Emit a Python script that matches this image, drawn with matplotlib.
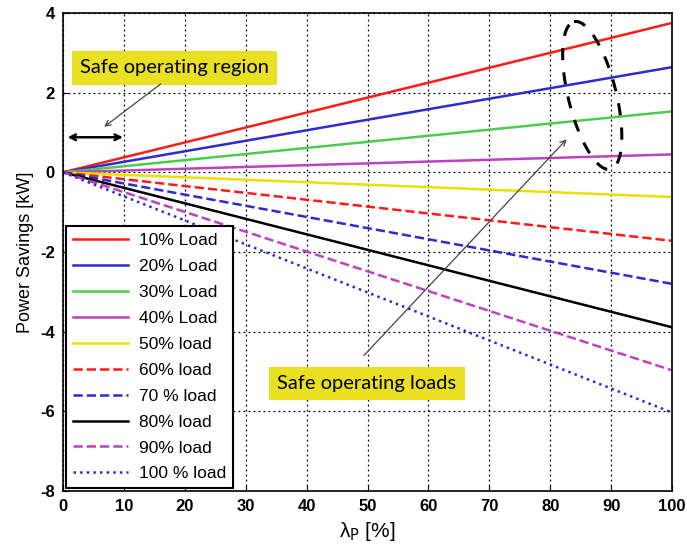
import numpy as np
import matplotlib
matplotlib.use("Agg")
import matplotlib.pyplot as plt

plt.rcParams['font.family'] = ['Liberation Sans', 'DejaVu Sans']
plt.rcParams['axes.unicode_minus'] = False

# load levels and power savings (kW) at lambda_p = 0 and 100 %
lam = [0, 100]
labels = ["10% Load", "20% Load", "30% Load", "40% Load", "50% load",
          "60% load", "70 % load", "80% load", "90% load", "100 % load"]
end_vals = [3.75, 2.64, 1.53, 0.45, -0.62, -1.72, -2.80, -3.89, -4.97, -6.03]

colors = ["#ff1a1a", "#2b2bd0", "#4ccc4c", "#c040c0", "#e8e000",
          "#ff1a1a", "#2b2bd0", "#000000", "#c040c0", "#2b2bd0"]
styles = ["-", "-", "-", "-", "-", "--", "--", "-", "--", ":"]

fig = plt.figure(figsize=(6.87, 5.55), dpi=100)
ax = fig.add_axes([0.0917, 0.1153, 0.8865, 0.8613])

for lab, v, c, ls in zip(labels, end_vals, colors, styles):
    ax.plot(lam, [0, v], ls, color=c, lw=1.8, label=lab)

ax.set_xlim(0, 100)
ax.set_ylim(-8, 4)
ax.set_xticks(np.arange(0, 101, 10))
ax.set_yticks(np.arange(-8, 5, 2))
ax.grid(True, linestyle=(0, (1.5, 2.5)), color="black", linewidth=0.9)
ax.tick_params(labelsize=12, direction="in", length=4, pad=6)
for t in ax.get_xticklabels() + ax.get_yticklabels():
    t.set_fontweight("bold")
ax.set_xlabel(r"λ$_\mathrm{P}$ [%]", fontsize=15)
ax.set_ylabel("Power Savings [kW]", fontsize=13)
for s in ax.spines.values():
    s.set_linewidth(1.2)

leg = ax.legend(loc="lower left", fontsize=12.5, handlelength=3.2,
                labelspacing=0.62, borderaxespad=0.15, fancybox=False,
                framealpha=1, edgecolor="black", handletextpad=0.6)
leg.get_frame().set_linewidth(1.5)

# annotations
box = dict(boxstyle="square,pad=0.4", fc="#e8e020", ec="none")
ax.text(2.8, 2.62, "Safe operating region", fontsize=14.5, family="Lato",
        bbox=box, va="center")
ax.annotate("", xy=(6.4, 1.1), xytext=(16.4, 2.26),
            arrowprops=dict(arrowstyle="->", color="#444444", lw=0.9))
ax.annotate("", xy=(0.3, 0.88), xytext=(10.3, 0.88),
            arrowprops=dict(arrowstyle="<->", color="black", lw=1.8))

ax.text(35.2, -5.3, "Safe operating loads", fontsize=14.5, family="Lato",
        bbox=box, va="center")
ax.annotate("", xy=(83.0, 0.88), xytext=(49.1, -4.65),
            arrowprops=dict(arrowstyle="->", color="#444444", lw=0.9))

# dashed ellipse around the safe loads
t = np.linspace(0, 2 * np.pi, 200)
a_px, b_px = 76, 24
maj = np.array([-0.24, 0.97])
mnr = np.array([0.97, 0.24])
px = a_px * np.cos(t)[:, None] * maj + b_px * np.sin(t)[:, None] * mnr
ex = 86.9 + px[:, 0] / 6.09
ey = 1.93 + px[:, 1] / 39.8
ax.plot(ex, ey, color="black", lw=2.2, ls=(0, (4, 4)), clip_on=False)

fig.savefig("out.png", dpi=100)
